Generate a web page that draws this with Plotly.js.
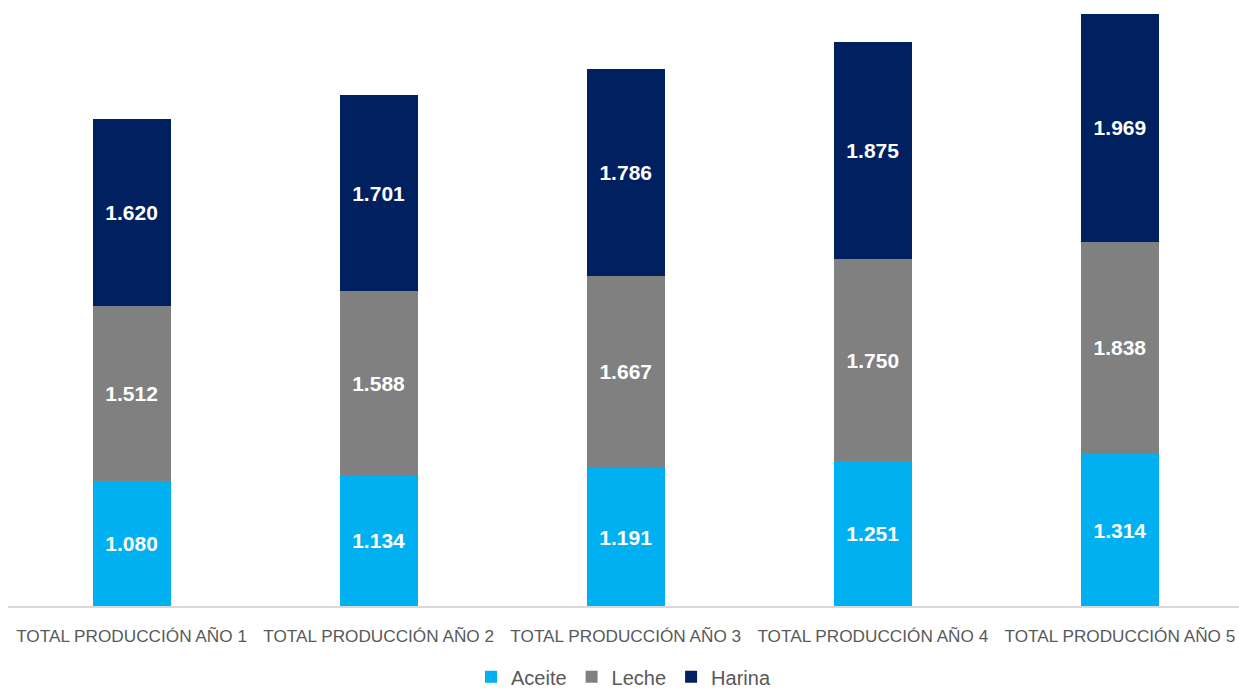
<!DOCTYPE html>
<html>
<head>
<meta charset="utf-8">
<script src="https://cdn.plot.ly/plotly-3.0.1.min.js"></script>
<style>html,body{margin:0;padding:0;background:#fff;}#chart{width:1239px;height:690px;}</style>
</head>
<body>
<div id="chart"></div>
<script>
const categories = ["TOTAL PRODUCCIÓN AÑO 1", "TOTAL PRODUCCIÓN AÑO 2", "TOTAL PRODUCCIÓN AÑO 3", "TOTAL PRODUCCIÓN AÑO 4", "TOTAL PRODUCCIÓN AÑO 5"];
const aceite = [1080, 1134, 1191, 1251, 1314];
const leche = [1512, 1588, 1667, 1750, 1838];
const harina = [1620, 1701, 1786, 1875, 1969];
const seriesNames = ["Aceite", "Leche", "Harina"];
const seriesColors = ["#00B0F0", "#808080", "#002060"];

const values = [aceite, leche, harina];
const traces = values.map((v, i) => ({
  type: "bar",
  name: seriesNames[i],
  x: categories,
  y: v,
  marker: {color: seriesColors[i], line: {width: 0}},
  texttemplate: "%{y:,}",
  textposition: "inside",
  insidetextanchor: "middle",
  constraintext: "none",
  textangle: 0,
  textfont: {family: "Liberation Sans, Arial, sans-serif", size: 21, color: "#ffffff", weight: "bold"},
  hoverinfo: "skip"
}));

const layout = {
  width: 1239,
  height: 690,
  barmode: "stack",
  bargap: 0.684,
  separators: ",.",
  paper_bgcolor: "#ffffff",
  plot_bgcolor: "#ffffff",
  margin: {l: 8, r: 0, t: 10, b: 84, autoexpand: false},
  font: {family: "Liberation Sans, Arial, sans-serif", color: "#595959"},
  xaxis: {
    type: "category",
    range: [-0.5, 4.482],
    showline: true,
    linecolor: "#d9d9d9",
    linewidth: 1.5,
    ticks: "",
    tickangle: 0,
    ticklabelstandoff: 14,
    tickfont: {size: 17.2, color: "#595959"},
    showgrid: false,
    zeroline: false,
    automargin: false
  },
  yaxis: {
    range: [0, 5155.6],
    visible: false,
    showgrid: false,
    zeroline: false
  },
  showlegend: true,
  legend: {
    orientation: "h",
    x: 0.5,
    xanchor: "center",
    y: -0.086,
    yanchor: "top",
    font: {size: 20, color: "#595959"},
    traceorder: "normal",
    itemclick: false
  }
};

Plotly.newPlot("chart", traces, layout, {displayModeBar: false, staticPlot: true});
</script>
</body>
</html>
